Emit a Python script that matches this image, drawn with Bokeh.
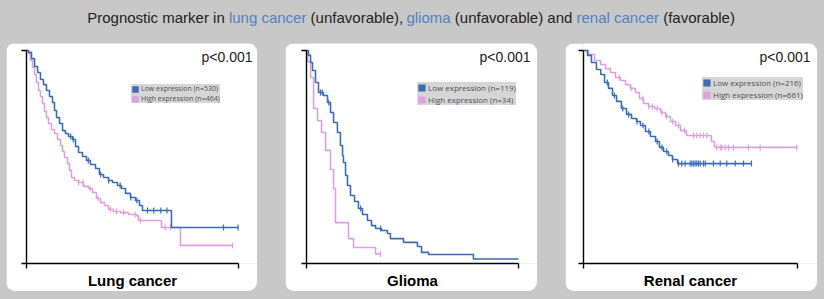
import math
from bokeh.plotting import figure
from bokeh.models import Range1d, FixedTicker, Label, Legend, LegendItem, Spacer, ColumnDataSource
from bokeh.layouts import row, column
from bokeh.embed import file_html
from bokeh.resources import INLINE
from bokeh.core.properties import value

BG = "#c8c8c8"
BLUE = "#3a6db5"
PINK = "#dfa0df"
LINK = "#4f82c4"
DARK = "#222222"
LEG_BG = "#d6d6d6"

# ---------------- title ----------------
title_parts = ["Prognostic marker in", "lung cancer", "(unfavorable),", "glioma",
               "(unfavorable) and", "renal cancer", "(favorable)"]
title_colors = [DARK, LINK, DARK, LINK, DARK, LINK, DARK]
title_x = [86.7, 228.4, 310.1, 405.9, 454.3, 576.0, 662.7]

# ---------------- lung cancer (months) ----------------
lung_t_max = 240
lung_n_low = 530
lung_n_high = 464
lung_low_t = [0, 2.3, 5.7, 9.1, 12.5, 15.8, 19.2, 22.6, 26.0, 29.4, 31.7, 34.0, 37.4, 40.8, 44.1,
              47.5, 52.1, 55.5, 58.9, 63.4, 67.9, 72.4, 78.1, 82.6, 87.2, 92.8, 97.4, 103.0, 107.5,
              112.1, 117.7, 123.4, 127.9, 131.3, 164.1, 240]
lung_low_s = [1.0, .991, .962, .925, .897, .864, .840, .812, .784, .756, .718, .685, .657, .624, .610,
              .596, .582, .549, .521, .502, .484, .465, .446, .418, .404, .390, .380, .366, .352,
              .329, .310, .296, .272, .249, .169, .169]
lung_low_cens_t = [50, 53, 70, 84, 93, 106, 118, 125, 137, 144, 152, 159, 223, 239.5]
lung_low_cens_s = [.596, .582, .484, .418, .390, .366, .310, .296, .249, .249, .249, .249, .169, .169]
lung_high_t = [0, 2.3, 4.5, 6.8, 9.1, 11.3, 13.6, 15.8, 18.1, 20.4, 22.6, 24.9, 28.3, 31.7, 35.1,
               38.5, 40.8, 43.0, 46.4, 48.7, 50.9, 54.3, 58.9, 64.5, 70.2, 74.7, 79.2, 83.8, 88.3,
               92.8, 98.5, 106.4, 115.5, 124.5, 126.8, 152.8, 174.3, 233.2]
lung_high_s = [1.0, .986, .953, .920, .887, .850, .812, .784, .751, .714, .685, .657, .629, .610, .582,
               .554, .526, .498, .469, .437, .404, .390, .380, .362, .352, .333, .305, .286, .272,
               .254, .244, .239, .230, .225, .202, .169, .085, .085]
lung_high_cens_t = [59, 64, 72, 81, 95, 102, 110, 123, 129, 157, 163, 233.2]
lung_high_cens_s = [.380, .380, .352, .305, .254, .244, .239, .230, .202, .169, .169, .085]

# ---------------- glioma (months) ----------------
glioma_t_max = 120
glioma_n_low = 119
glioma_n_high = 34
glioma_low_t = [0, 1.1, 2.3, 3.4, 5.1, 6.8, 9.6, 11.9, 13.6, 15.3, 17.5, 19.2, 20.4, 20.9, 22.1,
                23.2, 24.9, 27.2, 29.4, 31.7, 34.5, 36.8, 39.1, 42.5, 45.8, 47.5, 54.9, 62.8, 65.1,
                69.1, 94.5, 120]
glioma_low_s = [1.0, .977, .944, .906, .850, .803, .789, .756, .709, .662, .615, .554, .507, .474, .413,
                .366, .319, .291, .258, .230, .202, .178, .164, .155, .141, .117, .099, .080, .052,
                .042, .021, .021]
glioma_low_cens_t = [7.9, 8.9, 12.6, 30.6, 41.9]
glioma_low_cens_s = [.803, .803, .756, .258, .164]
glioma_high_t = [0, 0.6, 2.3, 4.0, 6.2, 8.5, 10.8, 13.6, 15.3, 16.4, 23.8, 26.6, 39.1, 41.9]
glioma_high_s = [1.0, .948, .873, .728, .671, .615, .531, .441, .352, .192, .117, .075, .045, .045]
glioma_high_cens_t = [41.9]
glioma_high_cens_s = [.045]

# ---------------- renal cancer (months) ----------------
renal_t_max = 180
renal_n_low = 216
renal_n_high = 661
renal_low_t = [0, 3.4, 6.7, 10.9, 14.5, 17.7, 21.0, 24.4, 27.8, 31.9, 36.2, 40.4, 44.6, 47.9, 52.1,
               56.3, 60.6, 63.9, 67.3, 71.5, 74.8, 79.1, 141.3]
renal_low_s = [1.0, .977, .944, .911, .887, .850, .822, .789, .761, .728, .700, .681, .667, .648, .620,
               .596, .573, .545, .526, .507, .488, .469, .469]
renal_low_cens_t = [20, 26, 33, 38, 45, 50, 55, 62, 66, 70, 75, 79.9, 82.7, 85.5, 89.7, 91.1, 92.5,
                    93.9, 95.3, 96.7, 98.2, 100.9, 102.4, 109.3, 115.0, 120.5, 127.6, 134.6, 141.3]
renal_low_cens_s = [.850, .789, .728, .700, .667, .648, .620, .573, .545, .526, .488, .469, .469, .469,
                    .469, .469, .469, .469, .469, .469, .469, .469, .469, .469, .469, .469, .469,
                    .469, .469]
renal_high_t = [0, 4.2, 9.3, 14.3, 18.5, 22.7, 26.9, 31.1, 35.3, 39.5, 43.7, 47.1, 50.5, 54.7, 59.7,
                64.8, 69.0, 73.2, 77.4, 81.6, 86.6, 107.6, 110.2, 180]
renal_high_s = [1.0, .981, .953, .934, .915, .897, .873, .859, .840, .822, .803, .775, .751, .737, .728,
                .709, .690, .667, .648, .624, .601, .573, .545, .545]
renal_high_cens_t = [30, 40, 50, 55, 58, 62, 66, 70, 75, 80, 85, 92.5, 95.3, 98.2, 100.9, 103.7,
                     112.1, 115.0, 116.3, 119.2, 121.9, 126.2, 138.8, 148.6, 179.4]
renal_high_cens_s = [.873, .822, .775, .737, .737, .728, .709, .690, .667, .648, .624, .601, .601,
                     .601, .601, .601, .545, .545, .545, .545, .545, .545, .545, .545, .545]

AXIS_H = 213.0   # pixel length of the y axis
FRAME_H = 220    # axis origin to panel top


def make_panel(name, t_max, pw, left, axis_w, name_off,
               low_t, low_s, low_ct, low_cs, n_low,
               high_t, high_s, high_ct, high_cs, n_high,
               leg_loc, leg_font, leg_row, p_off):
    frame_w = pw - left
    p = figure(width=pw, height=248,
               x_range=Range1d(0, t_max * frame_w / axis_w),
               y_range=Range1d(0, FRAME_H / AXIS_H),
               output_backend="svg", toolbar_location=None, tools="",
               title=name, title_location="below",
               min_border_left=left, min_border_right=0,
               min_border_top=0, min_border_bottom=28,
               styles={"border-radius": "9px", "overflow": "hidden"})
    p.background_fill_color = "white"
    p.border_fill_color = "white"
    p.outline_line_color = None
    p.xgrid.visible = False
    p.ygrid.visible = False

    p.title.align = "left"
    p.title.offset = name_off
    p.title.standoff = 2
    p.title.text_font = "Liberation Sans"
    p.title.text_font_size = "15px"
    p.title.text_font_style = "bold"
    p.title.text_color = "black"

    p.xaxis.ticker = FixedTicker(ticks=[0, t_max])
    p.yaxis.ticker = FixedTicker(ticks=[0, 1])
    p.xaxis.bounds = (0, t_max)
    p.yaxis.bounds = (0, 1)
    for ax in (p.xaxis, p.yaxis):
        ax.major_tick_out = 5
        ax.major_tick_in = 0
        ax.minor_tick_out = 0
        ax.minor_tick_in = 0
        ax.axis_line_color = "black"
        ax.axis_line_width = 1.4
        ax.major_tick_line_color = "black"
        ax.major_tick_line_width = 1.4
        ax.major_label_text_font_size = "1px"
        ax.major_label_text_color = None
        ax.major_label_standoff = 0

    p.step(x=high_t, y=high_s, mode="after", line_color=PINK, line_width=1.6)
    p.scatter(x=high_ct, y=high_cs, marker="dash", angle=math.pi / 2, size=6,
              line_color=PINK, line_width=1.2)
    p.step(x=low_t, y=low_s, mode="after", line_color=BLUE, line_width=1.6)
    p.scatter(x=low_ct, y=low_cs, marker="dash", angle=math.pi / 2, size=6,
              line_color=BLUE, line_width=1.2)

    # zero-area swatch renderers (invisible in the plot) that give the legend its squares
    r_low = p.quad(left=low_t[:1], right=low_t[:1], top=low_s[:1], bottom=low_s[:1],
                   fill_color=BLUE, line_color=None)
    r_high = p.quad(left=high_t[:1], right=high_t[:1], top=high_s[:1], bottom=high_s[:1],
                    fill_color=PINK, line_color=None)
    legend = Legend(items=[LegendItem(label=f"Low expression (n={n_low})", renderers=[r_low]),
                           LegendItem(label=f"High expression (n={n_high})", renderers=[r_high])],
                    location=leg_loc, orientation="vertical",
                    background_fill_color=LEG_BG, background_fill_alpha=1.0,
                    border_line_color=None,
                    label_text_font="Open Sans", label_text_font_size=f"{leg_font}px",
                    label_text_color="#505050", label_text_baseline="middle",
                    glyph_width=leg_row, glyph_height=leg_row, label_height=leg_row,
                    label_standoff=2, spacing=1, padding=2, margin=0)
    p.add_layout(legend)

    p.add_layout(Label(x=t_max, y=1, x_offset=p_off, y_offset=-6, text="p<0.001",
                       text_align="right", text_baseline="middle",
                       text_font="Liberation Sans", text_font_size="14px", text_color=DARK))
    return p


t = figure(width=824, height=43, x_range=Range1d(0, 824), y_range=Range1d(43, 0),
           output_backend="svg", toolbar_location=None, tools="", min_border=0)
t.axis.visible = False
t.xgrid.visible = False
t.ygrid.visible = False
t.background_fill_color = BG
t.border_fill_color = BG
t.outline_line_color = None
src = ColumnDataSource(dict(x=title_x, text=title_parts, color=title_colors))
t.text(x="x", y=16.5, text="text", text_color="color", source=src,
       text_font=value("Liberation Sans"), text_font_size="15px", text_baseline="alphabetic")

p1 = make_panel("Lung cancer", lung_t_max, 251, 20, 212, 61.4,
                lung_low_t, lung_low_s, lung_low_cens_t, lung_low_cens_s, lung_n_low,
                lung_high_t, lung_high_s, lung_high_cens_t, lung_high_cens_s, lung_n_high,
                (105, 160), 7, 8, 14)
p2 = make_panel("Glioma", glioma_t_max, 252, 21, 212, 80.6,
                glioma_low_t, glioma_low_s, glioma_low_cens_t, glioma_low_cens_s, glioma_n_low,
                glioma_high_t, glioma_high_s, glioma_high_cens_t, glioma_high_cens_s, glioma_n_high,
                (111, 158), 8, 9, 12)
p3 = make_panel("Renal cancer", renal_t_max, 252, 18, 214, 60.3,
                renal_low_t, renal_low_s, renal_low_cens_t, renal_low_cens_s, renal_n_low,
                renal_high_t, renal_high_s, renal_high_cens_t, renal_high_cens_s, renal_n_high,
                (119, 163), 8, 9, 13)

layout = column(
    t,
    row(Spacer(width=6, height=248), p1, Spacer(width=28, height=248), p2,
        Spacer(width=28, height=248), p3, Spacer(width=7, height=248)),
    Spacer(width=824, height=8),
    styles={"background-color": BG},
)

open("out.html", "w").write(file_html(layout, INLINE))
